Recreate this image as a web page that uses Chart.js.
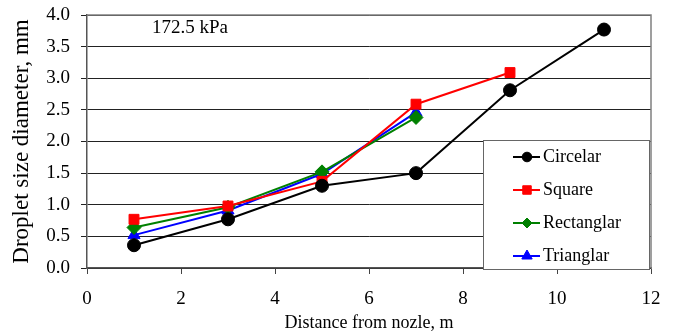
<!DOCTYPE html>
<html><head><meta charset="utf-8">
<script src="https://cdn.jsdelivr.net/npm/chart.js@4/dist/chart.umd.min.js"></script>
<style>html,body{margin:0;padding:0;background:#fff}#w{width:675px;height:336px}</style>
</head><body><div id="w"><canvas id="c"></canvas></div>
<script>
const distances = [1, 3, 5, 7, 9, 11];
const circelar = [0.36, 0.77, 1.30, 1.50, 2.81, 3.77];
const square = [0.77, 0.98, 1.37, 2.59, 3.09];
const rectanglar = [0.64, 0.96, 1.52, 2.38];
const trianglar = [0.52, 0.91, 1.49, 2.46];
const xTicks = [0, 2, 4, 6, 8, 10, 12];
const yTicks = [0, 0.5, 1, 1.5, 2, 2.5, 3, 3.5, 4];
const annotationText = '172.5 kPa';

function pts(arr){ return arr.map((v,i)=>({x:distances[i], y:v})); }
const FONT = "'Liberation Serif', 'Times New Roman', serif";

const series = [
  {label:'Circelar', data:pts(circelar), color:'#000000', style:'circle', r:6.5, lr:4.8},
  {label:'Square', data:pts(square), color:'#ff0000', style:'rect', r:7, lr:6},
  {label:'Rectanglar', data:pts(rectanglar), color:'#008000', style:'rectRot', r:7, lr:5},
  {label:'Trianglar', data:pts(trianglar), color:'#0000ff', style:'triangle', r:7, lr:6}
];

const extras = {
  id:'extras',
  afterDraw(chart){
    const ctx = chart.ctx, a = chart.chartArea;
    ctx.save();
    ctx.strokeStyle = '#808080'; ctx.lineWidth = 1.5;
    ctx.beginPath();
    ctx.moveTo(a.left, a.top); ctx.lineTo(a.right, a.top); ctx.lineTo(a.right, a.bottom);
    ctx.stroke();
    ctx.fillStyle = '#000'; ctx.font = '19px ' + FONT;
    ctx.textAlign = 'left'; ctx.textBaseline = 'middle';
    ctx.fillText(annotationText, 152, 28);
    const lx = 483, ly = 140, lw = 166, lh = 129;
    ctx.fillStyle = '#fff'; ctx.fillRect(lx, ly, lw, lh);
    ctx.strokeStyle = '#666'; ctx.lineWidth = 1;
    ctx.strokeRect(lx + 0.5, ly + 0.5, lw, lh);
    series.forEach((s, i) => {
      const y = 157 + i * 33;
      ctx.strokeStyle = s.color; ctx.lineWidth = 2;
      ctx.beginPath(); ctx.moveTo(513, y); ctx.lineTo(540, y); ctx.stroke();
      ctx.fillStyle = s.color; ctx.strokeStyle = s.color; ctx.lineWidth = 1;
      Chart.helpers.drawPoint(ctx, {pointStyle:s.style, radius:s.lr, borderWidth:1}, 527, y);
      ctx.fillStyle = '#000'; ctx.font = '18px ' + FONT;
      ctx.textAlign = 'left'; ctx.textBaseline = 'middle';
      ctx.fillText(s.label, 543, y);
    });
    ctx.restore();
  }
};

new Chart(document.getElementById('c'), {
  type:'line',
  data:{ datasets: series.map(s => ({
    label:s.label, data:s.data, borderColor:s.color, backgroundColor:s.color,
    borderWidth:2, pointStyle:s.style, pointRadius:s.r, pointHoverRadius:s.r,
    pointBorderColor:s.color, pointBackgroundColor:s.color, pointBorderWidth:1, tension:0, fill:false
  }))},
  options:{
    responsive:true, maintainAspectRatio:false, animation:false,
    layout:{padding:{left:0, right:24, top:15, bottom:0}},
    plugins:{legend:{display:false}, tooltip:{enabled:false}},
    scales:{
      x:{type:'linear', min:0, max:12,
        afterBuildTicks(s){ s.ticks = xTicks.map(v=>({value:v})); },
        afterFit(s){ s.height = 68; s.paddingLeft = 0; s.paddingRight = 0; },
        grid:{display:true, drawOnChartArea:false, tickLength:6, color:'#444', lineWidth:1},
        border:{color:'#555', width:1.5},
        ticks:{color:'#000', font:{family:FONT, size:19}, padding:14, maxRotation:0},
        title:{display:true, text:'Distance from nozle, m', color:'#000', font:{family:FONT, size:18}, padding:{top:0, bottom:2}}
      },
      y:{type:'linear', min:0, max:4,
        afterBuildTicks(s){ s.ticks = yTicks.map(v=>({value:v})); },
        afterFit(s){ s.width = 87; s.paddingTop = 0; s.paddingBottom = 0; },
        grid:{color:'#222', lineWidth:1, tickLength:6},
        border:{color:'#555', width:1.5},
        ticks:{color:'#000', font:{family:FONT, size:19}, padding:11, callback:v=>v.toFixed(1)},
        title:{display:true, text:'Droplet size diameter, mm', color:'#000', font:{family:FONT, size:23}, padding:{top:8, bottom:0}}
      }
    }
  },
  plugins:[extras]
});
</script></body></html>
